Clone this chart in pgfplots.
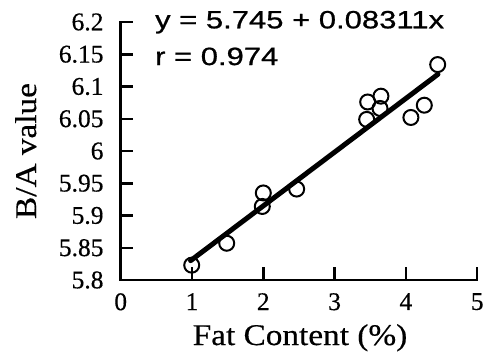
\documentclass[border=0pt]{standalone}
\usepackage{fontspec}
\setmainfont{Liberation Serif}[FakeBold=0.4]
\newfontfamily\labelfont{Liberation Serif}[FakeStretch=1.11,FakeBold=0.4]
\newfontfamily\eqfont{Liberation Sans}[FakeStretch=1.24,FakeBold=0.8]
\usepackage{pgfplots}
\pgfplotsset{compat=1.18}
\pgfplotstableread{
x y
0.996 5.823
1.487 5.857
2.000 5.935
1.986 5.914
2.468 5.941
3.450 6.049
3.464 6.076
3.650 6.085
3.637 6.066
4.070 6.052
4.258 6.071
4.446 6.134
}\pts
\begin{document}
\begin{tikzpicture}
\begin{axis}[
  scale only axis, width=356.5pt, height=258pt,
  xmin=0, xmax=5, ymin=5.8, ymax=6.2,
  axis x line*=bottom, axis y line*=left,
  axis line style={-, line width=2.5pt, line cap=rect},
  tick align=inside, major tick length=12.7pt,
  tick style={line width=2.5pt, black},
  xtick={0,1,2,3,4,5},
  ytick={5.8,5.85,5.9,5.95,6,6.05,6.1,6.15,6.2},
  yticklabels={5.8,5.85,5.9,5.95,6,6.05,6.1,6.15,6.2},
  /pgf/number format/assume math mode=true,
  ticklabel style={font=\fontsize{25.5}{25.5}\selectfont, inner sep=0pt},
  yticklabel style={anchor=east, xshift=-17pt},
  xticklabel style={anchor=north, yshift=-13pt},
  xlabel={Fat Content (\%)},
  ylabel={B/A value},
  label style={font=\labelfont\fontsize{30}{30}\selectfont, inner sep=0pt},
  xlabel style={at={(rel axis cs:0.503,0)}, anchor=base, yshift=-65pt},
  ylabel style={at={(rel axis cs:0,0.5)}, anchor=north, yshift=105.7pt},
  clip=false,
]
\addplot[only marks, mark=o, mark size=7.5pt, mark options={line width=2pt, black}] table[x=x,y=y] {\pts};
\addplot[black, line width=5pt, line cap=round] coordinates {(0.98,5.830) (4.45,6.119)};
\node[anchor=base west, inner sep=0pt, font=\eqfont\fontsize{25}{25}\selectfont] at (axis cs:0.48,6.1902) {y = 5.745 + 0.08311x};
\node[anchor=base west, inner sep=0pt, font=\eqfont\fontsize{25}{25}\selectfont] at (axis cs:0.48,6.1333) {r = 0.974};
\end{axis}
\pgfresetboundingbox
\useasboundingbox (-120.7pt,-77pt) rectangle (367.3pt,280pt);
\end{tikzpicture}
\end{document}
